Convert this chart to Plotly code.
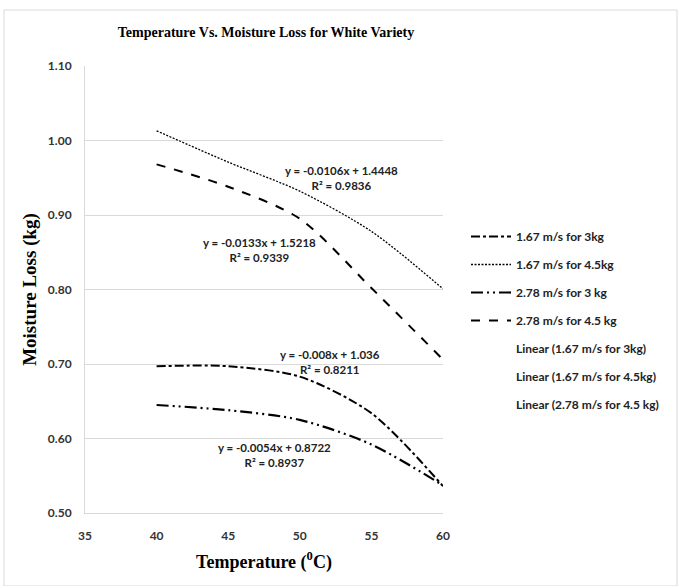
import plotly.graph_objects as go

temps = [40, 45, 50, 55, 60]
s1_name = "1.67 m/s for 3kg"
s1 = [0.697, 0.697, 0.683, 0.634, 0.536]
s2_name = "1.67 m/s for 4.5kg"
s2 = [1.013, 0.971, 0.932, 0.878, 0.801]
s3_name = "2.78 m/s for 3 kg"
s3 = [0.645, 0.638, 0.625, 0.592, 0.537]
s4_name = "2.78 m/s for 4.5 kg"
s4 = [0.968, 0.938, 0.895, 0.802, 0.706]
trend_names = ["Linear (1.67 m/s for 3kg)", "Linear (1.67 m/s for 4.5kg)", "Linear (2.78 m/s for 4.5 kg)"]

eq_texts = [
    "y = -0.0106x + 1.4448<br>R² = 0.9836",
    "y = -0.0133x + 1.5218<br>R² = 0.9339",
    "y = -0.008x + 1.036<br>R² = 0.8211",
    "y = -0.0054x + 0.8722<br>R² = 0.8937",
]
eq_x = [52.88, 47.22, 52.11, 48.2]
eq_y = [0.950, 0.853, 0.703, 0.5785]

fig = go.Figure()
styles = [
    (s1_name, s1, "dashdot", 2),
    (s2_name, s2, "2px,1.5px", 1.3),
    (s3_name, s3, "12px,4px,2px,4px,2px,4px", 2.2),
    (s4_name, s4, "dash", 2),
]
for i, (nm, ys, dash, w) in enumerate(styles):
    fig.add_trace(go.Scatter(x=temps, y=ys, name=nm, mode="lines",
                             line=dict(color="black", width=w, dash=dash, shape="spline", smoothing=0.8),
                             legendgroup=f"g{i}"))
for j, nm in enumerate(trend_names):
    fig.add_trace(go.Scatter(x=[None], y=[None], name=nm, mode="lines",
                             line=dict(color="rgba(0,0,0,0)", width=1),
                             legendgroup=f"t{j}"))

for t, x, y in zip(eq_texts, eq_x, eq_y):
    fig.add_annotation(x=x, y=y, xref="x", yref="y", text=t, showarrow=False,
                       align="center",
                       font=dict(family="Lato", size=11.5, weight="bold", color="#222"))

W, H = 680, 586
L, R, T, B = 85, 237, 66, 73
pw, ph = W - L - R, H - T - B

fig.add_shape(type="rect", xref="paper", yref="paper",
              x0=(4 - L) / pw, x1=(677 - L) / pw,
              y0=(H - B - 586) / ph, y1=(H - B - 10) / ph,
              line=dict(color="#d9d9d9", width=1))

tickfont = dict(family="Lato", size=12, weight="bold", color="#333")
fig.update_layout(
    width=W, height=H,
    margin=dict(l=L, r=R, t=T, b=B),
    paper_bgcolor="white", plot_bgcolor="white",
    title=dict(text="<b>Temperature Vs. Moisture Loss for White Variety</b>",
               x=(266) / W, xanchor="center", y=1 - 32 / H, yanchor="middle",
               font=dict(family="Liberation Serif", size=14, color="black")),
    xaxis=dict(range=[35, 60], tickvals=[35, 40, 45, 50, 55, 60], showgrid=False,
               showline=True, linecolor="#d9d9d9", ticks="", zeroline=False,
               ticklabelstandoff=12, tickfont=tickfont,
               title=dict(text="<b>Temperature (<sup>0</sup>C)</b>", standoff=12,
                          font=dict(family="Liberation Serif", size=18, color="black"))),
    yaxis=dict(range=[0.5, 1.1], tickvals=[0.5, 0.6, 0.7, 0.8, 0.9, 1.0, 1.1], tickformat=".2f",
               showgrid=True, gridcolor="#d9d9d9", showline=True, linecolor="#d9d9d9",
               ticks="", zeroline=False, ticklabelstandoff=10, tickfont=tickfont,
               title=dict(text="<b>Moisture Loss (kg)</b>", standoff=6,
                          font=dict(family="Liberation Serif", size=19, color="black"))),
    legend=dict(x=(466 - L) / pw, y=(H - B - 222) / ph, xanchor="left", yanchor="top",
                font=dict(family="Lato", size=12, weight="bold", color="#222"),
                tracegroupgap=9, itemwidth=40, bgcolor="rgba(0,0,0,0)"),
    showlegend=True,
)

fig.write_html("out.html")
